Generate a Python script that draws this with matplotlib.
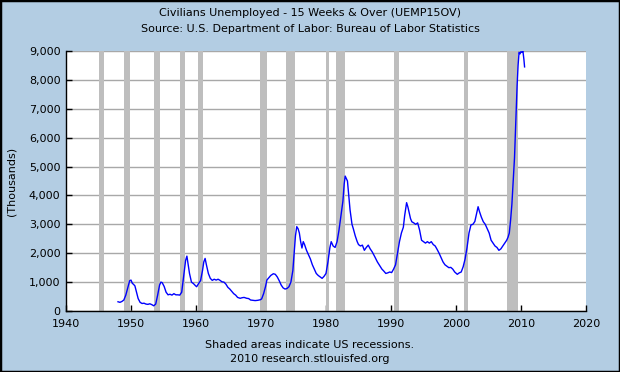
import matplotlib
matplotlib.use("Agg")
import matplotlib.pyplot as plt
from matplotlib.ticker import FuncFormatter
from matplotlib.patches import Rectangle

# monthly-ish readings (thousands of persons)
years = [
    1948.0, 1948.3, 1948.6, 1948.9, 1949.2, 1949.5, 1949.8, 1950.0, 1950.2, 1950.4,
    1950.6, 1950.9, 1951.1, 1951.4, 1951.7, 1952.0, 1952.3, 1952.6, 1952.9, 1953.2,
    1953.5, 1953.8, 1954.1, 1954.4, 1954.6, 1954.8, 1955.1, 1955.4, 1955.7, 1956.0,
    1956.3, 1956.6, 1956.9, 1957.2, 1957.5, 1957.8, 1958.1, 1958.4, 1958.6, 1958.8,
    1959.0, 1959.3, 1959.6, 1959.9, 1960.1, 1960.4, 1960.7, 1961.0, 1961.2, 1961.4,
    1961.6, 1961.9, 1962.2, 1962.5, 1962.8, 1963.1, 1963.4, 1963.7, 1964.0, 1964.3,
    1964.6, 1964.9, 1965.2, 1965.5, 1965.8, 1966.1, 1966.4, 1966.8, 1967.1, 1967.4,
    1967.8, 1968.1, 1968.4, 1968.7, 1969.1, 1969.5, 1969.9, 1970.1, 1970.4, 1970.7,
    1970.9, 1971.2, 1971.5, 1971.9, 1972.2, 1972.5, 1972.8, 1973.1, 1973.4, 1973.7,
    1974.0, 1974.3, 1974.6, 1974.9, 1975.1, 1975.3, 1975.5, 1975.7, 1975.9, 1976.1,
    1976.3, 1976.5, 1976.7, 1977.0, 1977.3, 1977.6, 1977.9, 1978.2, 1978.5, 1978.8,
    1979.1, 1979.4, 1979.7, 1980.0, 1980.3, 1980.6, 1980.8, 1981.1, 1981.4, 1981.7,
    1982.0, 1982.3, 1982.6, 1982.8, 1982.95, 1983.1, 1983.3, 1983.5, 1983.7, 1984.0,
    1984.2, 1984.5, 1984.8, 1985.0, 1985.3, 1985.6, 1985.9, 1986.2, 1986.5, 1986.8,
    1987.1, 1987.5, 1987.9, 1988.3, 1988.6, 1988.9, 1989.2, 1989.5, 1989.8, 1990.1,
    1990.4, 1990.7, 1991.0, 1991.3, 1991.6, 1991.9, 1992.1, 1992.4, 1992.6, 1992.8,
    1993.0, 1993.2, 1993.5, 1993.8, 1994.1, 1994.4, 1994.7, 1995.0, 1995.3, 1995.6,
    1995.9, 1996.2, 1996.5, 1996.8, 1997.1, 1997.4, 1997.7, 1998.0, 1998.3, 1998.6,
    1998.9, 1999.2, 1999.5, 1999.8, 2000.2, 2000.5, 2000.8, 2001.1, 2001.4, 2001.7,
    2002.0, 2002.3, 2002.6, 2002.9, 2003.2, 2003.4, 2003.6, 2003.9, 2004.2, 2004.5,
    2004.8, 2005.1, 2005.4, 2005.7, 2006.0, 2006.3, 2006.6, 2006.9, 2007.2, 2007.5,
    2007.8, 2008.0, 2008.2, 2008.4, 2008.6, 2008.8, 2009.0, 2009.2, 2009.4, 2009.55,
    2009.7, 2009.85, 2010.0, 2010.15, 2010.3, 2010.45, 2010.55,
]
values = [
    320, 300, 330, 380, 550, 800, 1050, 1070, 960, 920,
    870, 600, 430, 300, 260, 270, 240, 230, 250, 220,
    180, 240, 550, 900, 1000, 980, 850, 650, 560, 580,
    550, 600, 560, 560, 550, 650, 1200, 1750, 1900, 1600,
    1300, 1000, 950, 880, 840, 950, 1050, 1400, 1700, 1820,
    1600, 1300, 1130, 1060, 1100, 1070, 1100, 1060, 1010, 1000,
    930, 820, 760, 680, 600, 550, 470, 440, 460, 470,
    440, 430, 380, 370, 360, 370, 390, 420, 600, 850,
    1070, 1150, 1230, 1290, 1270, 1180, 1050, 900, 800, 760,
    780, 840, 1000, 1400, 2000, 2600, 2920, 2850, 2700, 2400,
    2180, 2400, 2300, 2100, 1950, 1800, 1600, 1450, 1300, 1230,
    1180, 1130, 1200, 1300, 1700, 2200, 2400, 2250, 2200, 2400,
    2800, 3300, 3800, 4400, 4670, 4600, 4500, 4000, 3500, 3000,
    2850, 2600, 2400, 2300, 2250, 2280, 2100, 2200, 2280, 2150,
    2050, 1880, 1700, 1560, 1450, 1380, 1300, 1320, 1350, 1330,
    1450, 1600, 2000, 2400, 2700, 2900, 3300, 3750, 3600, 3400,
    3200, 3090, 3050, 3000, 3050, 2800, 2450, 2400, 2350, 2400,
    2350, 2400, 2300, 2250, 2130, 2000, 1850, 1700, 1600, 1550,
    1500, 1510, 1450, 1350, 1270, 1320, 1350, 1530, 1800, 2200,
    2700, 2980, 3000, 3100, 3400, 3610, 3450, 3250, 3090, 3000,
    2850, 2700, 2450, 2350, 2250, 2200, 2100, 2150, 2250, 2350,
    2450, 2550, 2700, 3150, 3700, 4500, 5300, 6600, 7800, 8500,
    8950, 8900, 8980, 8950, 8990, 8700, 8450,
]

# NBER recessions (start, end) as decimal years
rec_start = [1945.1, 1948.9, 1953.5, 1957.6, 1960.3, 1969.9, 1973.9, 1980.0, 1981.5, 1990.5, 2001.2, 2007.9]
rec_end = [1945.8, 1949.8, 1954.4, 1958.3, 1961.1, 1970.9, 1975.2, 1980.5, 1982.9, 1991.2, 2001.9, 2009.5]

x_ticks = list(range(1940, 2021, 10))
y_ticks = list(range(0, 9001, 1000))

bg = "#b3cde3"
fs = 8
plt.rcParams["font.family"] = "DejaVu Sans"

fig = plt.figure(figsize=(6.2, 3.72), dpi=100, facecolor=bg)
ax = fig.add_axes([66 / 620, 1 - 311 / 372, 520 / 620, 260 / 372])
ax.set_facecolor("white")

for s, e in zip(rec_start, rec_end):
    ax.axvspan(s, e, color="#bebebe", lw=0, zorder=2)

ax.plot(years, values, color="#0000ff", lw=1.0, zorder=3)

ax.set_xlim(1940, 2020)
ax.set_ylim(0, 9000)
ax.set_xticks(x_ticks)
ax.set_yticks(y_ticks)
ax.yaxis.set_major_formatter(FuncFormatter(lambda v, p: f"{int(v):,}"))
ax.grid(axis="y", color="#a8a8a8", lw=1, zorder=1)
ax.set_axisbelow(True)
ax.tick_params(direction="in", length=4, width=1, labelsize=fs, colors="black")
ax.tick_params(axis="x", pad=6)
ax.tick_params(axis="y", pad=4)

for side in ["top", "right"]:
    ax.spines[side].set_visible(False)
for side in ["left", "bottom"]:
    ax.spines[side].set_color("black")
    ax.spines[side].set_linewidth(1)
    ax.spines[side].set_zorder(4)

ax.set_ylabel("(Thousands)", fontsize=fs, labelpad=9)

fig.text(0.5, 1 - 13 / 372, "Civilians Unemployed - 15 Weeks & Over (UEMP15OV)",
         ha="center", va="center", fontsize=fs)
fig.text(0.5, 1 - 29 / 372, "Source: U.S. Department of Labor: Bureau of Labor Statistics",
         ha="center", va="center", fontsize=fs)
fig.text(0.5, 1 - 345 / 372, "Shaded areas indicate US recessions.",
         ha="center", va="center", fontsize=fs)
fig.text(0.5, 1 - 359 / 372, "2010 research.stlouisfed.org",
         ha="center", va="center", fontsize=fs)

# black frame around the whole image
fig.patches.append(Rectangle((0, 0), 1, 1, transform=fig.transFigure, fill=False,
                             edgecolor="black", lw=2.5, zorder=10))

fig.savefig("out.png", dpi=100, facecolor=bg)
